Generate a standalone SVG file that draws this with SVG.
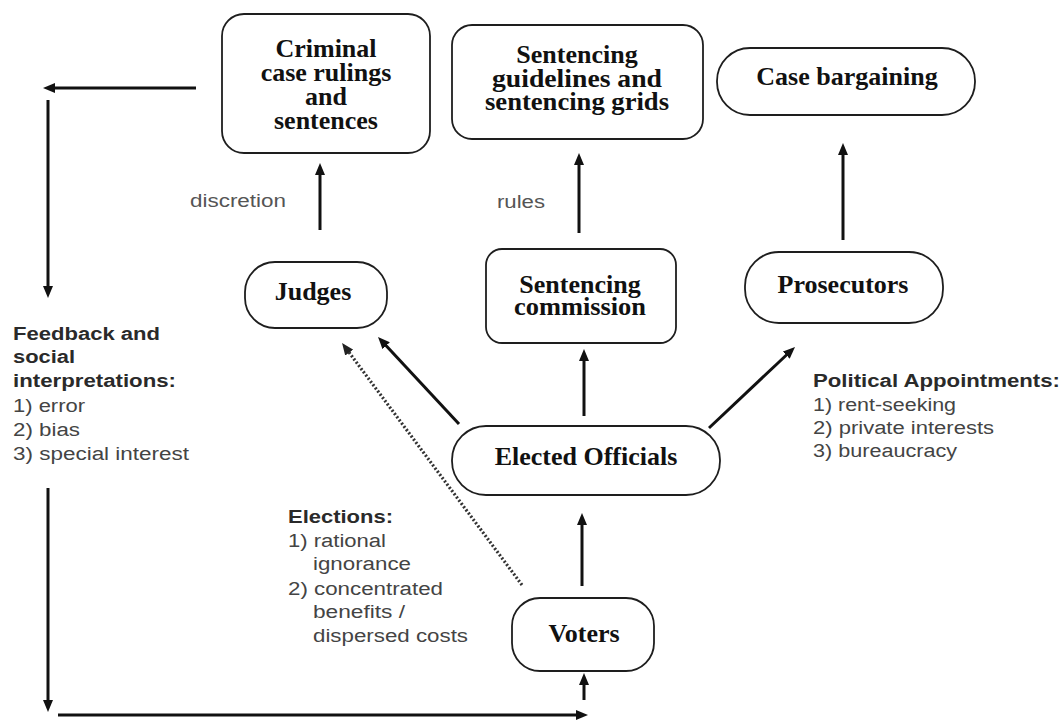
<svg xmlns="http://www.w3.org/2000/svg" width="1064" height="720" viewBox="0 0 1064 720">
<style>
.box{fill:#fff;stroke:#1e1e1e;stroke-width:1.8}
.nt{font-family:"Liberation Serif","Times New Roman",serif;font-weight:bold;font-size:26px;fill:#111;text-anchor:middle}
.cn{stroke:#111;stroke-width:3;fill:none}
.dot{stroke:#333;stroke-width:3.2;fill:none;stroke-dasharray:2 2}
.hd{font-family:"Liberation Sans",Arial,sans-serif;font-weight:bold;font-size:18px;fill:#2a2a2a}
.it{font-family:"Liberation Sans",Arial,sans-serif;font-size:18px;fill:#444}
.lb{font-family:"Liberation Sans",Arial,sans-serif;font-size:18px;fill:#555}
</style>
<defs>
<marker id="ah" viewBox="0 0 12 10" markerWidth="12" markerHeight="10" markerUnits="userSpaceOnUse" refX="1" refY="5" orient="auto">
<path d="M0,0 L12,5 L0,10 z" fill="#111"/>
</marker>
<marker id="ahd" viewBox="0 0 12 10" markerWidth="12" markerHeight="10" markerUnits="userSpaceOnUse" refX="1" refY="5" orient="auto">
<path d="M0,0 L12,5 L0,10 z" fill="#222"/>
</marker>
</defs>
<rect width="1064" height="720" fill="#fff"/>

<g id="criminal">
<rect class="box" x="222" y="14" width="208" height="139" rx="22"/>
<text class="nt" x="326" y="57">Criminal</text>
<text class="nt" x="326" y="81">case rulings</text>
<text class="nt" x="326" y="105">and</text>
<text class="nt" x="326" y="129">sentences</text>
</g>
<g id="guidelines">
<rect class="box" x="452" y="25" width="251" height="114" rx="20"/>
<text class="nt" x="577" y="63">Sentencing</text>
<text class="nt" x="577" y="87" textLength="170" lengthAdjust="spacingAndGlyphs">guidelines and</text>
<text class="nt" x="577" y="110" textLength="184" lengthAdjust="spacingAndGlyphs">sentencing grids</text>
</g>
<g id="bargaining">
<rect class="box" x="717" y="48" width="258" height="67" rx="33"/>
<text class="nt" x="847" y="85">Case bargaining</text>
</g>
<g id="judges">
<rect class="box" x="245" y="262" width="142" height="66" rx="30"/>
<text class="nt" x="313" y="300">Judges</text>
</g>
<g id="commission">
<rect class="box" x="486" y="249" width="190" height="94" rx="16"/>
<text class="nt" x="580" y="293">Sentencing</text>
<text class="nt" x="580" y="315" textLength="132" lengthAdjust="spacingAndGlyphs">commission</text>
</g>
<g id="prosecutors">
<rect class="box" x="745" y="252" width="198" height="71" rx="34"/>
<text class="nt" x="843" y="293">Prosecutors</text>
</g>
<g id="elected">
<rect class="box" x="452" y="426" width="268" height="69" rx="34"/>
<text class="nt" x="586" y="465">Elected Officials</text>
</g>
<g id="voters">
<rect class="box" x="512" y="598" width="142" height="73" rx="28"/>
<text class="nt" x="584" y="642">Voters</text>
</g>

<g id="labels">
<text class="lb" x="190" y="207" textLength="96" lengthAdjust="spacingAndGlyphs">discretion</text>
<text class="lb" x="497" y="208" textLength="48" lengthAdjust="spacingAndGlyphs">rules</text>
<g id="feedback">
<text class="hd" x="13" y="340" textLength="147" lengthAdjust="spacingAndGlyphs">Feedback and</text>
<text class="hd" x="13" y="363" textLength="62" lengthAdjust="spacingAndGlyphs">social</text>
<text class="hd" x="13" y="387" textLength="163" lengthAdjust="spacingAndGlyphs">interpretations:</text>
<text class="it" x="13" y="412" textLength="72" lengthAdjust="spacingAndGlyphs">1) error</text>
<text class="it" x="13" y="436" textLength="67" lengthAdjust="spacingAndGlyphs">2) bias</text>
<text class="it" x="13" y="460" textLength="176" lengthAdjust="spacingAndGlyphs">3) special interest</text>
</g>
<g id="political">
<text class="hd" x="813" y="387" textLength="247" lengthAdjust="spacingAndGlyphs">Political Appointments:</text>
<text class="it" x="813" y="411" textLength="143" lengthAdjust="spacingAndGlyphs">1) rent-seeking</text>
<text class="it" x="813" y="434" textLength="181" lengthAdjust="spacingAndGlyphs">2) private interests</text>
<text class="it" x="813" y="457" textLength="144" lengthAdjust="spacingAndGlyphs">3) bureaucracy</text>
</g>
<g id="elections">
<text class="hd" x="288" y="523" textLength="105" lengthAdjust="spacingAndGlyphs">Elections:</text>
<text class="it" x="288" y="547" textLength="98" lengthAdjust="spacingAndGlyphs">1) rational</text>
<text class="it" x="313" y="570" textLength="98" lengthAdjust="spacingAndGlyphs">ignorance</text>
<text class="it" x="288" y="595" textLength="155" lengthAdjust="spacingAndGlyphs">2) concentrated</text>
<text class="it" x="313" y="618" textLength="92" lengthAdjust="spacingAndGlyphs">benefits /</text>
<text class="it" x="313" y="642" textLength="155" lengthAdjust="spacingAndGlyphs">dispersed costs</text>
</g>
</g>

<g id="connectors">
<line class="cn" x1="196" y1="88" x2="54" y2="88" marker-end="url(#ah)"/>
<line class="cn" x1="48" y1="100" x2="48" y2="287" marker-end="url(#ah)"/>
<line class="cn" x1="48" y1="488" x2="48" y2="701" marker-end="url(#ah)"/>
<line class="cn" x1="58" y1="715" x2="577" y2="715" marker-end="url(#ah)"/>
<line class="cn" x1="584" y1="700" x2="584" y2="684" marker-end="url(#ah)"/>
<line class="cn" x1="582" y1="586" x2="582" y2="524" marker-end="url(#ah)"/>
<line class="cn" x1="584" y1="416" x2="584" y2="360" marker-end="url(#ah)"/>
<line class="cn" x1="579" y1="233" x2="579" y2="164" marker-end="url(#ah)"/>
<line class="cn" x1="320" y1="230" x2="320" y2="174" marker-end="url(#ah)"/>
<line class="cn" x1="843" y1="240" x2="843" y2="154" marker-end="url(#ah)"/>
<line class="cn" x1="459" y1="424" x2="385.5" y2="345" marker-end="url(#ah)"/>
<line class="dot" x1="522" y1="585" x2="348.6" y2="351.8" marker-end="url(#ahd)"/>
<line class="cn" x1="709" y1="428" x2="787" y2="354.5" marker-end="url(#ah)"/>
</g>
</svg>
